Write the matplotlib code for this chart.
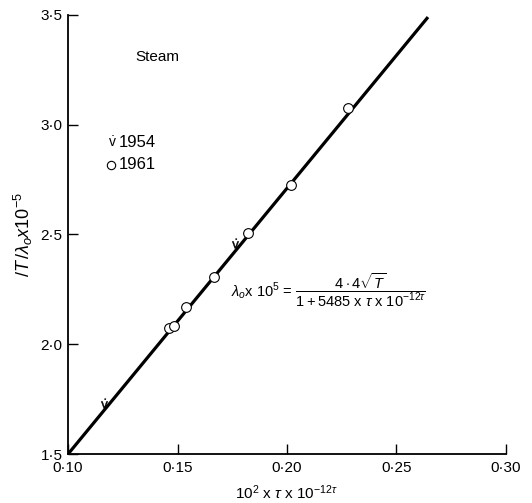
import matplotlib.pyplot as plt

# data
x_1961 = [0.1463, 0.1486, 0.1539, 0.1668, 0.1823, 0.2018, 0.2277]
y_1961 = [2.072, 2.084, 2.171, 2.308, 2.505, 2.725, 3.078]
x_1954 = [0.1166, 0.1763]
y_1954 = [1.734, 2.462]
fit_x = [0.100, 0.2644]
fit_y = [1.50, 3.49]

x_ticks = [0.10, 0.15, 0.20, 0.25, 0.30]
y_ticks = [1.5, 2.0, 2.5, 3.0, 3.5]

plt.rcParams['font.family'] = ['Liberation Sans', 'DejaVu Sans']
plt.rcParams['mathtext.fontset'] = 'custom'
plt.rcParams['mathtext.rm'] = 'Liberation Sans'
plt.rcParams['mathtext.it'] = 'Liberation Sans:italic'

fig = plt.figure(figsize=(5.32, 5.03), dpi=100)
ax = fig.add_axes([0.128, 0.0974, 0.823, 0.873])

ax.plot(fit_x, fit_y, color='black', lw=2.3, solid_capstyle='butt', zorder=2)
ax.plot(x_1961, y_1961, 'o', ms=7, mfc='white', mec='black', mew=0.8, zorder=3)
ax.plot(x_1954, y_1954, ls='none', marker=r'$\dot{\mathrm{v}}$', ms=7,
        color='black', mew=0.3, zorder=3)

ax.set_xlim(0.10, 0.30)
ax.set_ylim(1.5, 3.5)
ax.set_xticks(x_ticks)
ax.set_yticks(y_ticks)
ax.set_xticklabels([f'{v:.2f}'.replace('.', '\u00b7') for v in x_ticks])
ax.set_yticklabels([f'{v:.1f}'.replace('.', '\u00b7') for v in y_ticks])
ax.tick_params(direction='in', length=7, width=1, labelsize=11)
ax.tick_params(axis='x', pad=5)
ax.tick_params(axis='y', pad=4)

for side in ['top', 'right']:
    ax.spines[side].set_visible(False)
for side in ['left', 'bottom']:
    ax.spines[side].set_linewidth(1.3)

ax.set_xlabel(r'$10^2$ x $\tau$ x $10^{-12\tau}$', fontsize=11, labelpad=6)
ax.set_ylabel(r'$/T\,/\lambda_o x 10^{-5}$', fontsize=13, labelpad=4)

ax.text(0.1305, 3.29, 'Steam', fontsize=11)
ax.text(0.118, 2.90, r'$\dot{\mathrm{v}}$', fontsize=10)
ax.text(0.123, 2.90, '1954', fontsize=12)
ax.plot([0.1194], [2.815], 'o', ms=6, mfc='white', mec='black', mew=0.8)
ax.text(0.123, 2.80, '1961', fontsize=12)

ax.text(0.1745, 2.215,
        r'$\lambda_o$x $10^5$ = $\dfrac{4\cdot 4\sqrt{T}}{1+5485 \mathrm{\ x\ } \tau \mathrm{\ x\ } 10^{-12\tau}}$',
        fontsize=10.5)

fig.savefig('out.png', dpi=100)
